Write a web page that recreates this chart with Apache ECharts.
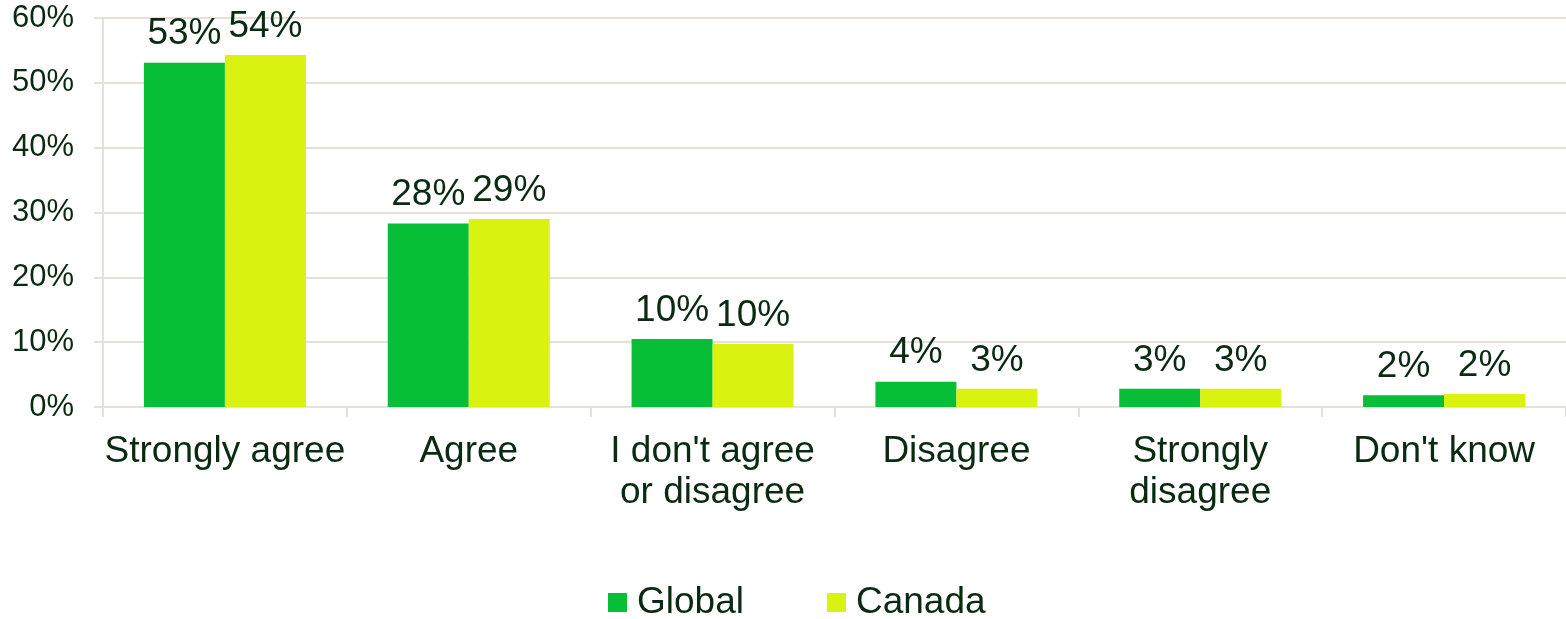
<!DOCTYPE html>
<html><head><meta charset="utf-8">
<script src="https://cdn.jsdelivr.net/npm/echarts@6/dist/echarts.min.js"></script>
<style>html,body{margin:0;padding:0;background:#fff}#c{width:1566px;height:619px}</style>
</head><body><div id="c"></div>
<script>
const categories = ["Strongly agree", "Agree", "I don't agree\nor disagree", "Disagree", "Strongly\ndisagree", "Don't know"];
const globalValues = [53.1, 28.3, 10.5, 3.9, 2.8, 1.8];
const canadaValues = [54.3, 29.0, 9.7, 2.8, 2.8, 2.0];
const globalLabels = ["53%", "28%", "10%", "4%", "3%", "2%"];
const canadaLabels = ["54%", "29%", "10%", "3%", "3%", "2%"];
const yTicks = { min: 0, max: 60, interval: 10 };

const txt = '#0B2A12';
const lineC = '#E6E0D6';
const font = 'Liberation Sans, Arial, sans-serif';

const chart = echarts.init(document.getElementById('c'));
function lbl(arr) {
  return {
    show: true, position: 'top', distance: 10,
    fontFamily: font, fontSize: 37, color: txt,
    formatter: p => arr[p.dataIndex]
  };
}
chart.setOption({
  animation: false,
  grid: { left: 103, right: 0, top: 18, bottom: 212, containLabel: false },
  legend: {
    top: 584, left: 608, padding: 0,
    itemWidth: 19, itemHeight: 19, itemGap: 83,
    icon: 'rect',
    textStyle: { fontFamily: font, fontSize: 37, color: txt, padding: [0, 0, 0, 5] },
    data: ['Global', 'Canada']
  },
  xAxis: {
    type: 'category', data: categories,
    axisLine: { lineStyle: { color: lineC, width: 2 } },
    axisTick: { show: true, length: 10, lineStyle: { color: lineC, width: 2 } },
    axisLabel: { fontFamily: font, fontSize: 37, color: txt, margin: 24, lineHeight: 41, interval: 0 }
  },
  yAxis: {
    type: 'value', min: yTicks.min, max: yTicks.max, interval: yTicks.interval,
    axisLine: { show: true, lineStyle: { color: lineC, width: 2 } },
    axisTick: { show: true, length: 9, lineStyle: { color: lineC, width: 2 } },
    splitLine: { lineStyle: { color: lineC, width: 2 } },
    axisLabel: { fontFamily: font, fontSize: 31, color: txt, margin: 29, formatter: v => v + '%' }
  },
  series: [
    { name: 'Global', type: 'bar', data: globalValues, barWidth: 81, barGap: '0%',
      itemStyle: { color: '#06BF37' }, label: lbl(globalLabels) },
    { name: 'Canada', type: 'bar', data: canadaValues, barWidth: 81, barGap: '0%',
      itemStyle: { color: '#D9F20F' }, label: lbl(canadaLabels) }
  ]
});
</script></body></html>
